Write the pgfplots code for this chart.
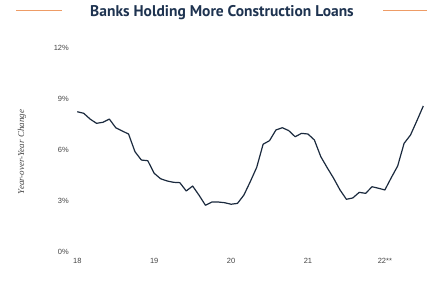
\documentclass[border=0pt]{standalone}
\usepackage{pgfplots}
\pgfplotsset{compat=1.18}
\usepackage{fontspec}
\setmainfont{Liberation Sans}
\newfontfamily\titlefont{PT Sans}
\newfontfamily\labelfont{Liberation Serif}
\definecolor{navy}{HTML}{1B2A3E}
\definecolor{titlec}{HTML}{1E3350}
\definecolor{orangel}{HTML}{EE9C66}
\definecolor{tickc}{HTML}{444444}
\begin{document}
\begin{tikzpicture}
\useasboundingbox (0,0) rectangle (438pt,295pt);
\node[font=\titlefont\bfseries\fontsize{15.5}{17}\selectfont, text=titlec] at (222pt,282pt) {Banks Holding More Construction Loans};
\draw[orangel, line width=1pt] (16pt,284pt) -- (62pt,284pt);
\draw[orangel, line width=1pt] (383pt,284pt) -- (427pt,284pt);
\node[rotate=90, font=\labelfont\itshape\fontsize{9}{10}\selectfont, text=tickc] at (22pt,143pt) {Year-over-Year Change};
\begin{axis}[
  at={(77.3pt,43pt)}, anchor=south west,
  scale only axis, width=346pt, height=204pt,
  xmin=0, xmax=54, ymin=0, ymax=12,
  enlargelimits=false, clip=false,
  axis line style={draw=none},
  major tick length=0pt,
  ytick={0,3,6,9,12},
  yticklabels={0\%,3\%,6\%,9\%,12\%},
  xtick={0,12,24,36,48},
  xticklabels={18,19,20,21,22**},
  tick label style={font=\fontsize{7.5}{8}\selectfont, text=tickc},
  yticklabel style={xshift=-5pt},
  xticklabel style={yshift=-3pt},
  /pgf/number format/assume math mode=true,
]
\addplot[navy, line width=1.2pt, line join=round] coordinates {
(0,8.25) (1,8.16) (2,7.82) (3,7.57) (4,7.63) (5,7.82) (6,7.31) (7,7.12) (8,6.94) (9,5.90)
(10,5.41) (11,5.37) (12,4.63) (13,4.31) (14,4.18) (15,4.10) (16,4.08) (17,3.59) (18,3.88) (19,3.34)
(20,2.75) (21,2.94) (22,2.94) (23,2.90) (24,2.81) (25,2.86) (26,3.35) (27,4.14) (28,4.98) (29,6.34)
(30,6.55) (31,7.18) (32,7.31) (33,7.14) (34,6.78) (35,6.98) (36,6.94) (37,6.59) (38,5.61) (39,4.96)
(40,4.34) (41,3.65) (42,3.10) (43,3.18) (44,3.51) (45,3.45) (46,3.84) (47,3.75) (48,3.65) (49,4.37)
(50,5.06) (51,6.39) (52,6.88) (53,7.72) (54,8.59)
};
\end{axis}
\end{tikzpicture}
\end{document}
